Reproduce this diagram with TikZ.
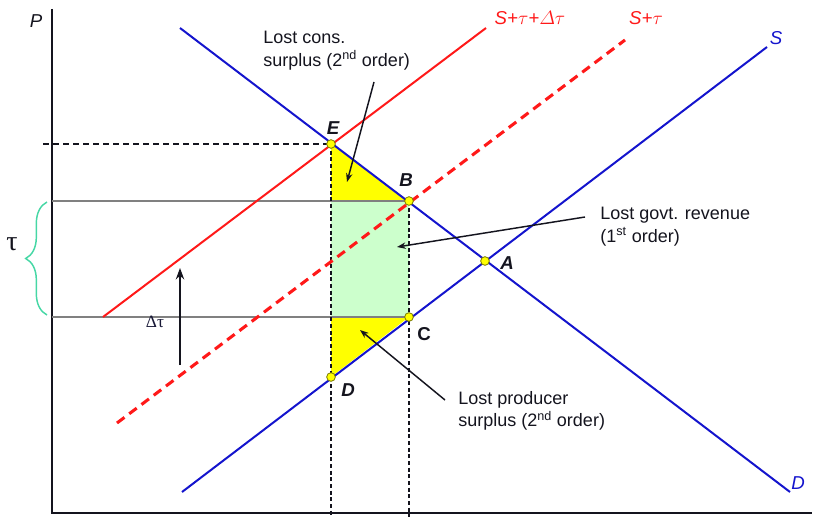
\documentclass[tikz,border=0pt]{standalone}
\usepackage{fontspec}
\setmainfont{Liberation Sans}
\newfontfamily\greekserif{Liberation Serif}
\usetikzlibrary{arrows.meta,positioning,decorations.pathreplacing}
\definecolor{royal}{RGB}{20,20,205}
\definecolor{scarlet}{RGB}{255,25,25}
\definecolor{mint}{RGB}{204,255,204}
\definecolor{lemon}{RGB}{255,255,0}
\definecolor{dotrim}{RGB}{120,120,0}
\definecolor{bracegreen}{RGB}{70,215,165}
\definecolor{ink}{RGB}{20,20,30}
\definecolor{navyink}{RGB}{25,25,55}
\tikzset{
  >={Stealth[length=2.3mm,width=1.7mm]},
  axis/.style={draw=ink,line width=2.2pt},
  curve/.style={draw=#1,line width=1.5pt},
  curve/.default=royal,
  taxcurve/.style={draw=scarlet,line width=2.3pt,dash pattern=on 7pt off 4.5pt},
  level/.style={draw=black!50,line width=1.1pt},
  guide/.style={draw=ink,line width=1.2pt,dash pattern=on 4.5pt off 3pt},
  dropline/.style={draw=ink,line width=#1,dash pattern=on 3pt off 2pt},
  dropline/.default=1pt,
  dot/.style={circle,draw=dotrim,fill=lemon,line width=0.6pt,inner sep=0pt,minimum size=6.5pt},
  point/.style={font=\fontsize{14}{16}\selectfont\bfseries\itshape,text=ink},
  tag/.style={font=\fontsize{13.5}{17}\selectfont,text=ink,align=left,inner sep=0pt,anchor=west},
  curvetag/.style={font=\fontsize{14}{16}\selectfont\itshape,text=#1},
  pointer/.style={->,line width=1.1pt,draw=ink},
}

\begin{document}
\begin{tikzpicture}[x=0.75pt,y=-0.75pt]
  \useasboundingbox (0,0) rectangle (813,517);
  % key points
  \coordinate (E) at (331,144);
  \coordinate (B) at (409,201);
  \coordinate (C) at (409,317);
  \coordinate (D) at (331,377);
  \coordinate (A) at (485,261);
  \coordinate (F) at (331,201);
  \coordinate (G) at (331,317);
  % areas
  \fill[mint] (F) rectangle (C);
  \fill[lemon] (E) -- (B) -- (F) -- cycle;
  \fill[lemon] (G) -- (C) -- (D) -- cycle;
  % axes
  \coordinate (origin) at (52,513);
  \coordinate (ytop) at (52,9);
  \coordinate (xend) at (812,513);
  \draw[axis] (ytop) -- (origin) -- (xend);
  \node[font=\fontsize{14}{16}\selectfont\itshape,text=ink] (plabel) at (36,21) {P};
  % price levels
  \coordinate (hi) at (52,201);
  \coordinate (lo) at (52,317);
  \coordinate (etick) at (43,144);
  \draw[level] (hi) -- (B);
  \draw[level] (lo) -- (C);
  \draw[guide] (etick) -- (E);
  \coordinate (ebase) at (331,517);
  \coordinate (bbase) at (409,517);
  \draw[dropline=1.2pt] (E) -- (ebase);
  \draw[dropline=0.8pt] (B) -- (bbase);
  % curves
  \coordinate (d1) at (180,28);  \coordinate (d2) at (790,492);
  \coordinate (s1) at (182,492); \coordinate (s2) at (767,47);
  \coordinate (t1) at (117,423); \coordinate (t2) at (625,40);
  \coordinate (u1) at (103,317); \coordinate (u2) at (486,28);
  \draw[curve] (d1) -- (d2);
  \draw[curve] (s1) -- (s2);
  \draw[taxcurve] (t1) -- (t2);
  \draw[curve=scarlet] (u1) -- (u2);
  \node[curvetag=scarlet] (lblu) at (530,18) {S+$\tau$+$\mathnormal{\Delta}\tau$};
  \node[curvetag=scarlet] (lblt) at (646,18) {S+$\tau$};
  \node[curvetag=royal] (lbls) at (776,38) {S};
  \node[curvetag=royal] (lbld) at (798,483) {D};
  % tax wedge
  \coordinate (brlow) at (47,315);
  \coordinate (brhigh) at (47,202);
  \draw[bracegreen,line width=1.1pt,decorate,decoration={brace,amplitude=16pt,aspect=0.5}] (brlow) -- (brhigh);
  \node[font=\greekserif\fontsize{21}{23}\selectfont,text=ink] (taulabel) at (12,244) {τ};
  \coordinate (shiftfoot) at (180,365);
  \coordinate (shifthead) at (180,268);
  \draw[->,draw=ink,line width=1.9pt,>={Stealth[length=3mm,width=2.2mm]}] (shiftfoot) -- (shifthead);
  \node[font=\greekserif\fontsize{13}{15}\selectfont,text=navyink] (dtaulabel) at (155,322) {Δτ};
  % points
  \foreach \p in {E,B,C,D,A} \node[dot] (dot\p) at (\p) {};
  \node[point] (lblE) at (333,128) {E};
  \node[point] (lblB) at (406,180) {B};
  \node[point] (lblA) at (507,263) {A};
  \node[point,font=\fontsize{14}{16}\selectfont\bfseries] (lblC) at (424,334) {C};
  \node[point] (lblD) at (348,390) {D};
  % annotations
  \node[tag] (cons) at (263,51) {Lost cons.\\surplus (2\textsuperscript{nd} order)};
  \node[tag] (govt) at (600,227) {Lost govt. revenue\\(1\textsuperscript{st} order)};
  \node[tag] (prod) at (458,411) {Lost producer\\surplus (2\textsuperscript{nd} order)};
  \coordinate (constail) at (374,82);  \coordinate (constip) at (347,182);
  \coordinate (govttail) at (585,217); \coordinate (govttip) at (397,247);
  \coordinate (prodtail) at (445,400); \coordinate (prodtip) at (360,330);
  \draw[pointer] (constail) -- (constip);
  \draw[pointer] (govttail) -- (govttip);
  \draw[pointer] (prodtail) -- (prodtip);
\end{tikzpicture}
\end{document}
